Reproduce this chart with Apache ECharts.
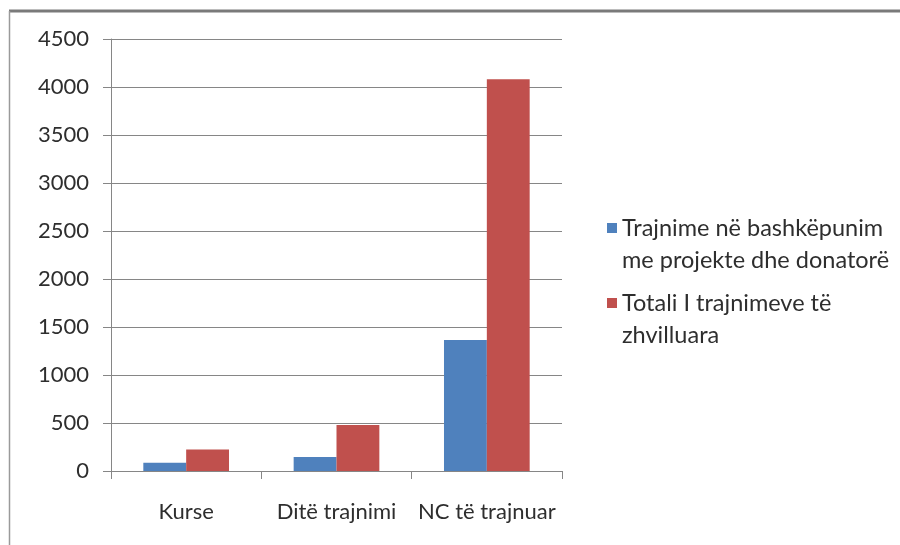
<!DOCTYPE html>
<html>
<head>
<meta charset="utf-8">
<script src="https://cdn.jsdelivr.net/npm/echarts@6/dist/echarts.min.js"></script>
<style>html,body{margin:0;padding:0;background:#fff}#c{width:900px;height:545px}</style>
</head>
<body>
<div id="c"></div>
<script>
var categories = ['Kurse', 'Ditë trajnimi', 'NC të trajnuar'];
var seriesNames = ['Trajnime në bashkëpunim me projekte dhe donatorë', 'Totali I trajnimeve të zhvilluara'];
var legendLabels = ['Trajnime në bashkëpunim\nme projekte dhe donatorë', 'Totali I trajnimeve të\nzhvilluara'];
var blueValues = [85, 145, 1365];
var redValues = [225, 480, 4080];
var yTicks = [0, 500, 1000, 1500, 2000, 2500, 3000, 3500, 4000, 4500];

var FONT = 'Lato';
var chart = echarts.init(document.getElementById('c'), null, {renderer: 'canvas'});
chart.setOption({
  animation: false,
  backgroundColor: '#fff',
  textStyle: {fontFamily: FONT},
  graphic: [
    {type: 'line', shape: {x1: 9, y1: 11, x2: 900, y2: 11}, style: {stroke: '#7a7a7a', lineWidth: 3}},
    {type: 'line', shape: {x1: 9.5, y1: 11, x2: 9.5, y2: 545}, style: {stroke: '#9a9a9a', lineWidth: 1.5}}
  ],
  grid: {left: 111, right: 338, top: 39, bottom: 74, containLabel: false},
  legend: {
    orient: 'vertical',
    left: 602,
    top: 175,
    icon: 'rect',
    itemWidth: 10,
    itemHeight: 10,
    itemGap: -21,
    data: seriesNames,
    formatter: function (name) { return '\n' + legendLabels[seriesNames.indexOf(name)]; },
    textStyle: {fontFamily: FONT, fontSize: 23.5, color: '#2e2e2e', lineHeight: 32}
  },
  xAxis: {
    type: 'category',
    data: categories,
    axisLine: {lineStyle: {color: '#868686', width: 1}},
    axisTick: {show: true, length: 8, lineStyle: {color: '#868686'}},
    axisLabel: {fontFamily: FONT, fontSize: 22, color: '#2e2e2e', margin: 30, interval: 0}
  },
  yAxis: {
    type: 'value',
    min: yTicks[0],
    max: yTicks[yTicks.length - 1],
    interval: yTicks[1] - yTicks[0],
    axisLine: {show: true, lineStyle: {color: '#868686', width: 1}},
    axisTick: {show: true, length: 8, lineStyle: {color: '#868686'}},
    splitLine: {lineStyle: {color: '#868686', width: 1}},
    axisLabel: {fontFamily: FONT, fontSize: 22, color: '#2e2e2e', margin: 22, formatter: function (v) { return String(v); }}
  },
  series: [
    {name: seriesNames[0], type: 'bar', data: blueValues, itemStyle: {color: '#4f81bd'}, barGap: '0%', barCategoryGap: '43%'},
    {name: seriesNames[1], type: 'bar', data: redValues, itemStyle: {color: '#c0504d'}, barGap: '0%', barCategoryGap: '43%'}
  ]
});
</script>
</body>
</html>
